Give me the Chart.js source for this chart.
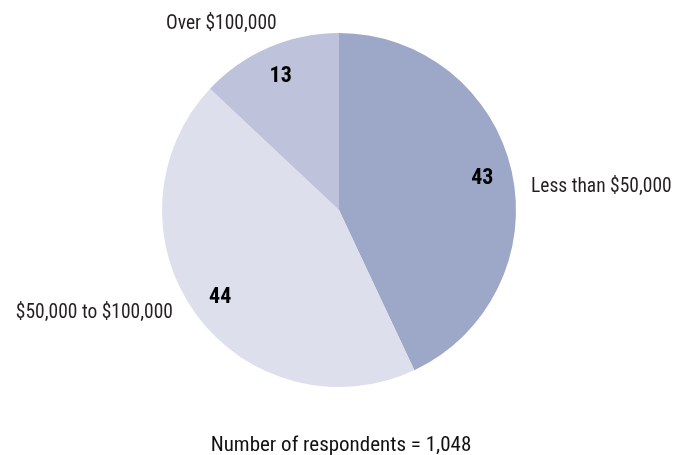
<!DOCTYPE html>
<html>
<head>
<meta charset="utf-8">
<script src="https://cdn.jsdelivr.net/npm/chart.js@4.4.1/dist/chart.umd.min.js"></script>
<style>
  html, body { margin: 0; padding: 0; background: #fff; }
  #wrap { width: 675px; height: 455px; }
</style>
</head>
<body>
<div id="wrap"><canvas id="c" width="675" height="455"></canvas></div>
<script>
// Household income of respondents (percent)
const categories = ['Less than $50,000', '$50,000 to $100,000', 'Over $100,000'];
const shares = [43, 44, 13];
const sliceColors = ['#9da7c7', '#dedfed', '#bec2da'];
const footnote = 'Number of respondents = 1,048';

const FONT = '"Roboto Condensed", "DejaVu Sans Condensed", sans-serif';

// Where each category name sits: polar angle (deg) and radius factor from the pie centre
const nameSpots = [
  { angle: -6.7, radius: 1.092, align: 'left' },
  { angle: 148.1, radius: 1.105, align: 'right' },
  { angle: 237.6, radius: 1.241, align: 'center' }
];

const pieLabels = {
  id: 'pieLabels',
  afterDatasetsDraw(chart) {
    const ctx = chart.ctx;
    const meta = chart.getDatasetMeta(0);
    ctx.save();
    ctx.textBaseline = 'middle';
    meta.data.forEach((arc, i) => {
      const { x, y, startAngle, endAngle, outerRadius } = arc.getProps(['x', 'y', 'startAngle', 'endAngle', 'outerRadius'], true);
      const mid = (startAngle + endAngle) / 2;
      // value inside the slice
      ctx.fillStyle = '#000';
      ctx.font = 'bold 22px ' + FONT;
      ctx.textAlign = 'center';
      ctx.fillText(String(shares[i]), x + Math.cos(mid) * outerRadius * 0.83, y + Math.sin(mid) * outerRadius * 0.83 + 1);
      // category name outside
      const s = nameSpots[i];
      const a = s.angle * Math.PI / 180;
      ctx.font = '19.5px ' + FONT;
      ctx.fillStyle = '#231f20';
      ctx.textAlign = s.align;
      ctx.fillText(categories[i], x + Math.cos(a) * outerRadius * s.radius, y + Math.sin(a) * outerRadius * s.radius);
    });
    // footnote under the pie
    const area = chart.chartArea;
    ctx.font = '21px ' + FONT;
    ctx.fillStyle = '#111';
    ctx.textAlign = 'center';
    ctx.textBaseline = 'alphabetic';
    ctx.fillText(footnote, (area.left + area.right) / 2 + 2, area.bottom + 64);
    ctx.restore();
  }
};

new Chart(document.getElementById('c'), {
  type: 'pie',
  data: {
    labels: categories,
    datasets: [{
      data: shares,
      backgroundColor: sliceColors,
      borderWidth: 0
    }]
  },
  options: {
    responsive: false,
    animation: false,
    layout: { padding: { top: 33, bottom: 68, left: 3, right: 0 } },
    plugins: {
      legend: { display: false },
      tooltip: { enabled: false }
    }
  },
  plugins: [pieLabels]
});
</script>
</body>
</html>
